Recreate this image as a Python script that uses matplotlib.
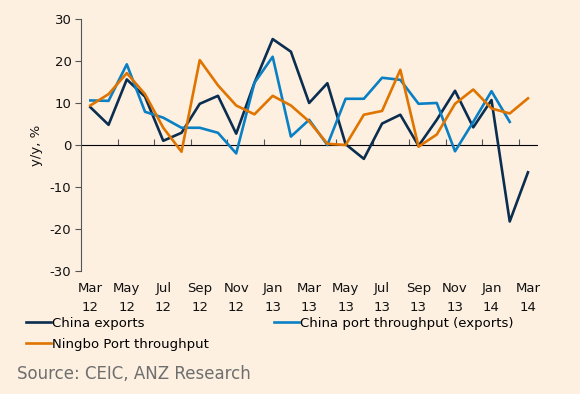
import numpy as np
import matplotlib.pyplot as plt

plt.rcParams["axes.unicode_minus"] = False

# monthly data, Mar 2012 - Mar 2014 (y/y, %)
months = ["Mar\n12", "May\n12", "Jul\n12", "Sep\n12", "Nov\n12", "Jan\n13", "Mar\n13",
          "May\n13", "Jul\n13", "Sep\n13", "Nov\n13", "Jan\n14", "Mar\n14"]

china_exports = [9.0, 4.8, 15.6, 11.5, 1.0, 2.9, 9.8, 11.7, 2.7, 14.8, 25.2, 22.2, 10.0,
                 14.7, 0.2, -3.3, 5.1, 7.2, -0.2, 6.0, 12.9, 4.2, 10.7, -18.2, -6.5]
port_throughput = [10.6, 10.5, 19.2, 7.9, 6.5, 4.1, 4.1, 2.9, -2.0, 14.8, 21.0, 2.0, 6.0,
                   0.0, 11.0, 11.0, 16.0, 15.5, 9.8, 10.0, -1.5, 5.5, 12.8, 5.5, np.nan]
ningbo = [9.4, 12.1, 17.1, 12.1, 4.1, -1.6, 20.2, 14.2, 9.4, 7.3, 11.7, 9.4, 5.6,
          0.3, 0.0, 7.2, 8.1, 17.9, -0.4, 2.5, 9.8, 13.2, 8.7, 7.5, 11.1]

bg = "#FDF0E1"
navy = "#0A2D50"
blue = "#0A80C4"
orange = "#E07400"
axis_grey = "#555555"

x = np.arange(len(china_exports))

fig = plt.figure(figsize=(5.8, 3.94), dpi=100, facecolor=bg)
ax = fig.add_axes([0.14, 0.312, 0.786, 0.64], facecolor=bg)

l1, = ax.plot(x, china_exports, color=navy, lw=1.9, label="China exports")
l2, = ax.plot(x, port_throughput, color=blue, lw=1.9, label="China port throughput (exports)")
l3, = ax.plot(x, ningbo, color=orange, lw=1.9, label="Ningbo Port throughput")

ax.set_xlim(-0.5, len(x) - 0.5)
ax.set_ylim(-30, 30)
ax.set_yticks(np.arange(-30, 31, 10))

# labels at the bottom, no tick marks
ax.set_xticks(np.arange(0, len(x), 2))
ax.set_xticklabels(months, fontsize=9.5, linespacing=1.55, color="#111111")
ax.tick_params(axis="x", length=0, pad=8)
ax.tick_params(axis="y", labelsize=9.5, length=4, color=axis_grey, pad=3,
               labelcolor="#111111")

for s in ["top", "right", "bottom"]:
    ax.spines[s].set_visible(False)
ax.spines["left"].set_color(axis_grey)

# category axis drawn at zero with ticks between month pairs
sec = ax.secondary_xaxis(0.5)
sec.set_xticks(np.arange(1.5, len(x) - 1, 2))
sec.set_xticklabels([])
sec.tick_params(axis="x", length=4, color=axis_grey, direction="out")
sec.spines["bottom"].set_color(axis_grey)

ax.set_ylabel("y/y, %", fontsize=9.5, labelpad=5, color="#111111")

fig.legend(handles=[l1, l3, l2], ncol=2, loc="upper left",
           bbox_to_anchor=(0.045, 0.196), frameon=False, fontsize=9.5,
           handlelength=1.9, handletextpad=0.1, columnspacing=4.9,
           labelspacing=0.6, borderaxespad=0, borderpad=0)

fig.text(0.03, 0.051, "Source: CEIC, ANZ Research", fontsize=12, color="#6E6E6E",
         va="center")

fig.savefig("out.png", dpi=100, facecolor=bg)
